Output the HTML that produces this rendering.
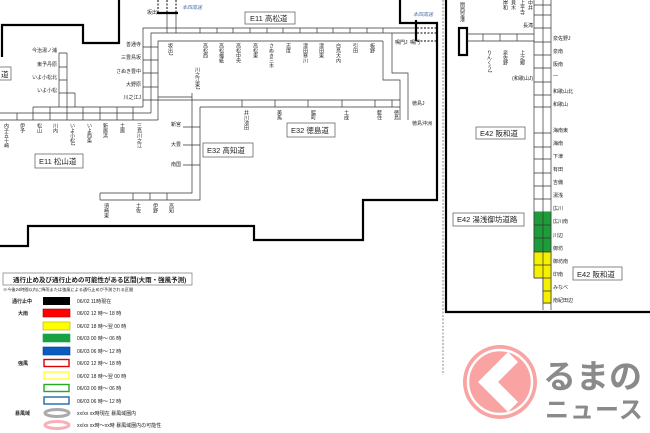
<!DOCTYPE html>
<html><head><meta charset="utf-8"><style>
html,body{margin:0;padding:0;background:#fff;}
svg{display:block;}
text{font-family:"Liberation Sans","Noto Sans CJK JP",sans-serif;fill:#222;}
.s{font-size:5px;}
.v{font-size:5px;writing-mode:vertical-rl;}
.bx{font-size:7.5px;}
</style></head><body>
<svg width="650" height="433" viewBox="0 0 650 433" xmlns="http://www.w3.org/2000/svg">
<rect width="650" height="433" fill="#fff"/>
<g fill="none" stroke="#000" stroke-width="2.2">
<path d="M2,57 L2,25 L83,25 L83,43 L119,43 L119,0"/>
<path d="M0,246 L28,246 L28,226 L254,226 L254,240 L363,240 L363,200 L437,200 L437,23 L400,23 L400,0"/>
<path d="M446,0 L446,312 L650,312"/>
<rect x="459" y="28" width="8" height="27" fill="#fff"/>
</g>
<line x1="443" y1="0" x2="443" y2="375" stroke="#555" stroke-width="0.7" stroke-dasharray="2,1.5"/>

<g fill="none" stroke="#333" stroke-width="0.7">
<path d="M143,107 L143,28 L416,28"/>
<path d="M151,113 L151,33 L416,33"/>
<path d="M158,120 L158,41 L383,41"/>
<path d="M200,28V33M217,28V33M233,28V33M250,28V33M267,28V33M283,28V33M300,28V33M317,28V33M333,28V33M350,28V33M367,28V33M383,28V33M167,13V33M176,13V33"/>
<path d="M143,47H158M143,60H158M143,73H158M143,87H158M143,100H158"/>
<path d="M33,107H143M0,113H151M0,120H158"/>
<path d="M17,113V120M33,107V120M50,107V120M67,107V120M83,107V120M100,107V120M117,107V120M133,107V120"/>
<path d="M59,53V107M67,53V107M75,93V107M59,53H67M59,67H67M59,80H67M59,93H75"/>
<path d="M158,97H192M158,100H400M200,107H400"/>
<path d="M242,100V107M275,100V107M308,100V107M342,100V107M375,100V107M392,100V107"/>
<path d="M383,41V80H400V120"/>
<path d="M392,33V73H408V120"/>
<path d="M192,93V193H100"/>
<path d="M200,107V200H100"/>
<path d="M183,127H200M183,145H200M183,165H200M133,193V200M150,193V200M167,193V200M100,193V200"/>
<path d="M534,0V278M543,0V310M551,0V310"/>
<path d="M534,5H551M534,15H551M534,28H551M534,42H551M534,55H551M534,68H551M534,82H551M534,95H551M534,107H551M534,133H551M534,147H551M534,159H551M534,173H551M534,186H551M534,199H551M534,212H551M534,225H551M534,238H551M534,252H551M534,265H551M534,278H551M543,291H551M543,303H551"/>
<path d="M467,34H534M467,41H534M483,34V41M500,34V41M517,34V41"/>
</g>
<rect x="534" y="212" width="17" height="40" fill="#1e9c3a"/>
<rect x="534" y="252" width="17" height="26" fill="#f5ef00"/>
<rect x="543" y="278" width="8" height="25" fill="#f5ef00"/>
<g fill="none" stroke="#333" stroke-width="0.7"><path d="M534,212V278M543,212V303M551,212V303M534,225H551M534,238H551M534,252H551M534,265H551M534,278H551M543,291H551M543,303H551"/></g>

<g stroke="#000" stroke-width="2.2" fill="none"><path d="M157,13H178M416,20V41"/></g>
<g stroke="#000" stroke-width="1" stroke-dasharray="2,1.5" fill="none"><path d="M158,0V13M167,0V13M176,0V13M417,28H436M417,33H436M417,41H436"/></g>
<text x="182" y="9" class="s" style="fill:#4a6fb0;font-style:italic">本四高速</text>
<text x="413" y="16" class="s" style="fill:#4a6fb0;font-style:italic">本四高速</text>
<text x="147" y="14" class="s">坂出</text>

<g fill="#fff" stroke="#555" stroke-width="0.7">
<rect x="245" y="12" width="50" height="12"/><rect x="287" y="123" width="48" height="14"/>
<rect x="203" y="143" width="50" height="14"/><rect x="35" y="154" width="48" height="14"/>
<rect x="-2" y="67" width="13" height="13"/><rect x="476" y="127" width="49" height="12"/>
<rect x="453" y="213" width="71" height="13"/><rect x="573" y="267" width="49" height="13"/>
</g>
<text x="250" y="21" class="bx">E11 高松道</text>
<text x="291" y="133" class="bx">E32 徳島道</text>
<text x="207" y="153" class="bx">E32 高知道</text>
<text x="39" y="164" class="bx">E11 松山道</text>
<text x="1" y="77" class="bx">道</text>
<text x="480" y="136" class="bx">E42 阪和道</text>
<text x="457" y="222" class="bx">E42 湯浅御坊道路</text>
<text x="577" y="277" class="bx">E42 阪和道</text>

<g class="v">
<text x="170" y="43" class="v">坂出J</text><text x="205" y="43" class="v">高松西</text><text x="221" y="43" class="v">高松檀紙</text>
<text x="238" y="43" class="v">高松中央</text><text x="255" y="43" class="v">高松東</text><text x="271" y="43" class="v">さぬき三木</text>
<text x="288" y="43" class="v">志度</text><text x="305" y="43" class="v">津田寒川</text><text x="321" y="43" class="v">津田東</text>
<text x="338" y="43" class="v">白鳥大内</text><text x="355" y="43" class="v">引田</text><text x="372" y="43" class="v">板野</text>
<text x="197" y="67" class="v">川之江東J</text>
<text x="6" y="123" class="v">内子五十崎</text><text x="22" y="123" class="v">伊予</text><text x="39" y="123" class="v">松山</text>
<text x="55" y="123" class="v">川内</text><text x="72" y="123" class="v">いよ小松J</text><text x="89" y="123" class="v">いよ西条</text>
<text x="105" y="123" class="v">新居浜</text><text x="122" y="123" class="v">土居</text><text x="139" y="123" class="v">三島川之江</text>
<text x="246" y="110" class="v">井川池田</text><text x="279" y="110" class="v">美馬</text><text x="313" y="110" class="v">脇町</text>
<text x="346" y="110" class="v">土成</text><text x="379" y="110" class="v">藍住</text><text x="396" y="110" class="v">徳島</text>
<text x="106" y="203" class="v">須崎東</text><text x="138" y="203" class="v">土佐</text><text x="155" y="203" class="v">伊野</text><text x="171" y="203" class="v">高知</text>
<text x="489" y="50" class="v">りんくうJ</text><text x="505" y="50" class="v">泉佐野</text><text x="522" y="50" class="v">上之郷</text>
<text x="462" y="2" class="v">関西空港</text>
<text x="505" y="0" class="v">岸和</text><text x="513" y="0" class="v">貝木</text><text x="522" y="0" class="v">上平寺</text><text x="530" y="0" class="v">中井</text>
</g>
<g class="s" text-anchor="end">
<text x="141" y="46">善通寺</text><text x="141" y="59">三豊鳥坂</text><text x="141" y="73">さぬき豊中</text><text x="141" y="86">大野原</text><text x="141" y="99">川之江J</text>
<text x="57" y="52">今治湯ノ浦</text><text x="57" y="66">東予丹原</text><text x="57" y="79">いよ小松北</text><text x="57" y="92">いよ小松</text>
<text x="181" y="126">新宮</text><text x="181" y="146">大豊</text><text x="181" y="166">南国</text>
<text x="533" y="27">長滝</text><text x="533" y="80">(和歌山J)</text>
</g>
<g class="s">
<text x="395" y="44">鳴門J</text><text x="410" y="44">鳴門</text>
<text x="412" y="105">徳島J</text><text x="412" y="125">徳島沖洲</text>
<text x="553" y="40">泉佐野J</text><text x="553" y="53">泉南</text><text x="553" y="66">阪南</text><text x="553" y="77">—</text>
<text x="553" y="93">和歌山北</text><text x="553" y="106">和歌山</text><text x="553" y="132">海南東</text><text x="553" y="145">海南</text>
<text x="553" y="158">下津</text><text x="553" y="171">有田</text><text x="553" y="184">吉備</text><text x="553" y="197">湯浅</text>
<text x="553" y="210">広川</text><text x="553" y="223">広川南</text><text x="553" y="237">川辺</text><text x="553" y="250">御坊</text>
<text x="553" y="263">御坊南</text><text x="553" y="276">印南</text><text x="553" y="289">みなべ</text><text x="553" y="302">南紀田辺</text>
</g>

<rect x="3" y="273" width="189" height="12" fill="#fff" stroke="#777" stroke-width="0.7"/>
<text x="13" y="282" style="font-size:6.5px;font-weight:bold">通行止め及び通行止めの可能性がある区間(大雨・強風予測)</text>
<text x="3" y="291" style="font-size:4.2px">※今後24時間以内に降雨または強風による通行止めが予測される区間</text>
<g class="s" style="font-weight:bold">
<text x="12" y="303">通行止中</text><text x="18" y="315">大雨</text><text x="18" y="365">強風</text><text x="15" y="415">暴風域</text>
</g>
<rect x="43" y="297" width="27" height="8" fill="#000"/>
<rect x="43" y="309" width="27" height="8" fill="#f00" stroke="#a00" stroke-width="0.6"/>
<rect x="43" y="322" width="27" height="8" fill="#ff0" stroke="#aa0" stroke-width="0.6"/>
<rect x="43" y="334" width="27" height="8" fill="#1aa040" stroke="#0a6" stroke-width="0.6"/>
<rect x="43" y="347" width="27" height="8" fill="#0a5cc0" stroke="#048" stroke-width="0.6"/>
<rect x="44" y="359.5" width="25" height="7" fill="#fff" stroke="#d00" stroke-width="1.4"/>
<rect x="44" y="372" width="25" height="7" fill="#fff" stroke="#ff3" stroke-width="1.4"/>
<rect x="44" y="384.5" width="25" height="7" fill="#fff" stroke="#2a2" stroke-width="1.4"/>
<rect x="44" y="397" width="25" height="7" fill="#fff" stroke="#26a" stroke-width="1.4"/>
<ellipse cx="57" cy="413" rx="12" ry="3.5" fill="none" stroke="#aaa" stroke-width="3"/>
<ellipse cx="57" cy="425" rx="12" ry="3.5" fill="none" stroke="#f7b0b8" stroke-width="3"/>
<g class="s">
<text x="77" y="303">06/02 11時現在</text><text x="77" y="315">06/02 12 時～ 18 時</text>
<text x="77" y="328">06/02 18 時～翌 00 時</text><text x="77" y="340">06/03 00 時～ 06 時</text>
<text x="77" y="353">06/03 06 時～ 12 時</text><text x="77" y="365">06/02 12 時～ 18 時</text>
<text x="77" y="378">06/02 18 時～翌 00 時</text><text x="77" y="390">06/03 00 時～ 06 時</text>
<text x="77" y="403">06/03 06 時～ 12 時</text><text x="77" y="415">xx/xx xx時現在 暴風域圏内</text>
<text x="77" y="427">xx/xx xx時～xx時 暴風域圏内の可能性</text>
</g>

<circle cx="500" cy="382" r="37" fill="#f9a3a3"/>
<circle cx="500" cy="382" r="32" fill="none" stroke="#fff" stroke-width="2.5"/>
<path d="M508,352 L478,382 L508,412 L518,402 L498,382 L518,362 Z" fill="#fff"/>
<text x="543" y="388" style="font-size:33px;font-weight:bold;fill:#8a8a8a">るまの</text>
<text x="545" y="418" style="font-size:24px;font-weight:bold;fill:#8a8a8a;letter-spacing:1px">ニュース</text>
</svg>
</body></html>
